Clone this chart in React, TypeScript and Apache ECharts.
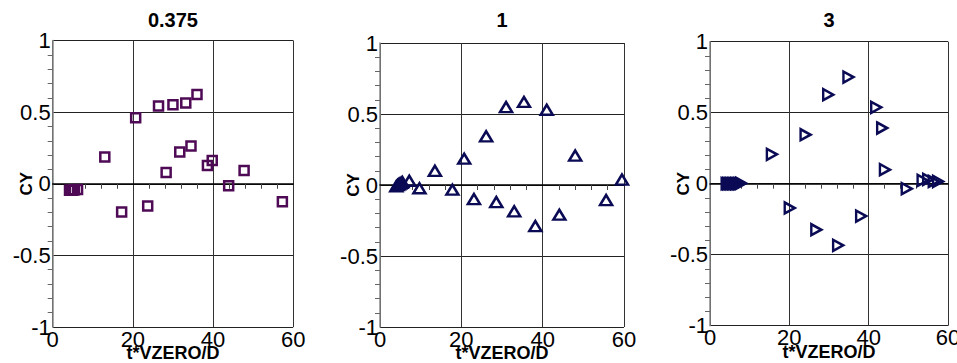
import React, { useEffect, useRef } from "react";
import * as echarts from "echarts";

const titles = ["0.375", "1", "3"];
const xTicks = [0, 20, 40, 60];
const yTicks = [-1, -0.5, 0, 0.5, 1];

const s1x = [4.2, 4.6, 5.0, 5.4, 6.2, 13, 17.2, 20.7, 23.7, 26.4, 28.3, 30, 31.7, 33.2, 34.5, 36, 38.6, 39.8, 43.9, 47.75, 57.3];
const s1y = [-0.045, -0.045, -0.045, -0.042, -0.04, 0.186, -0.198, 0.46, -0.156, 0.542, 0.079, 0.551, 0.221, 0.563, 0.263, 0.623, 0.128, 0.163, -0.014, 0.093, -0.126];

const s2x = [4.0, 4.3, 4.6, 4.9, 5.2, 5.5, 7.2, 9.7, 13.5, 17.8, 20.7, 23.1, 26.1, 28.6, 31, 33, 35.4, 38.2, 41, 44.1, 48, 55.6, 59.5];
const s2y = [-0.01, 0, 0.005, 0.01, 0.015, 0.02, 0.03, -0.023, 0.1, -0.033, 0.185, -0.099, 0.343, -0.12, 0.549, -0.185, 0.585, -0.289, 0.53, -0.209, 0.207, -0.106, 0.038];

const s3x = [4.2, 4.6, 5.0, 5.4, 5.8, 6.2, 6.6, 7.0, 7.4, 7.8, 15.6, 20.1, 24.1, 26.8, 29.8, 32.3, 34.9, 38.1, 41.9, 43.4, 44.1, 49.6, 53.6, 55, 56.4, 57.5];
const s3y = [0, 0, 0, 0, 0, 0, 0, 0, 0, 0.003, 0.207, -0.171, 0.345, -0.324, 0.627, -0.434, 0.751, -0.228, 0.538, 0.392, 0.099, -0.035, 0.023, 0.03, 0.016, 0.016];

const FONT = "'Liberation Sans', Arial, sans-serif";

const zip = (xs: number[], ys: number[]) => xs.map((x, i) => [x, ys[i]]);

const grids = [
  { left: 52.7, top: 40.5, width: 240.5, height: 286.5, outerBoundsMode: "none", containLabel: false },
  { left: 380, top: 43, width: 244, height: 284, outerBoundsMode: "none", containLabel: false },
  { left: 710, top: 41.7, width: 238, height: 284, outerBoundsMode: "none", containLabel: false },
];

export default function App() {
  const ref = useRef<HTMLDivElement>(null);
  useEffect(() => {
    if (!ref.current) return;
    const chart = echarts.init(ref.current, undefined, { renderer: "svg" });
    const xAxis = grids.map((_, i) => ({
      type: "value",
      gridIndex: i,
      min: xTicks[0],
      max: xTicks[xTicks.length - 1],
      interval: 20,
      name: "t*VZERO/D",
      nameLocation: "middle",
      nameGap: 17,
      nameMoveOverlap: false,
      nameTextStyle: { fontFamily: FONT, fontWeight: "bold", fontSize: 18, color: "#000" },
      axisLine: { show: true, lineStyle: { color: "#000", width: 1.5 } },
      axisTick: { show: false },
      minorTick: { show: true, splitNumber: 5, length: 5, lineStyle: { color: "#444" } },
      axisLabel: { fontFamily: FONT, fontSize: 22, color: "#000", margin: 1 },
      splitLine: { show: true, lineStyle: { color: "#333", width: 1 } },
    }));
    const yAxis = grids.map((_, i) => ({
      type: "value",
      gridIndex: i,
      min: yTicks[0],
      max: yTicks[yTicks.length - 1],
      interval: 0.5,
      name: "CY",
      nameLocation: "middle",
      nameGap: 18,
      nameMoveOverlap: false,
      nameTextStyle: { fontFamily: FONT, fontWeight: "bold", fontSize: 17, color: "#000" },
      axisLine: { show: true, lineStyle: { color: "#888", width: 1.5 } },
      axisTick: { show: false },
      minorTick: { show: true, splitNumber: 5, length: 5, lineStyle: { color: "#666" } },
      axisLabel: { fontFamily: FONT, fontSize: 22, color: "#000", margin: 2 },
      splitLine: { show: true, lineStyle: { color: "#222", width: 1 } },
    }));
    const purple = "#4f0a55";
    const navy = "#0a0a55";
    chart.setOption({
      animation: false,
      backgroundColor: "#fff",
      grid: grids,
      xAxis,
      yAxis,
      graphic: titles.map((t, i) => ({
        type: "text",
        x: grids[i].left + grids[i].width / 2,
        y: 20,
        style: {
          text: t,
          fontFamily: FONT,
          fontWeight: "bold",
          fontSize: 20,
          fill: "#000",
          textAlign: "center",
          textVerticalAlign: "middle",
        },
      })),
      series: [
        {
          type: "scatter",
          xAxisIndex: 0,
          yAxisIndex: 0,
          data: zip(s1x, s1y),
          symbol: "rect",
          symbolSize: 9,
          itemStyle: { color: "rgba(0,0,0,0)", borderColor: purple, borderWidth: 2.5, opacity: 1 },
        },
        {
          type: "scatter",
          xAxisIndex: 1,
          yAxisIndex: 1,
          data: zip(s2x, s2y),
          symbol: "path://M0,10L6,0L12,10Z",
          symbolSize: [12, 10],
          itemStyle: { color: "rgba(0,0,0,0)", borderColor: navy, borderWidth: 2.5, opacity: 1 },
        },
        {
          type: "scatter",
          xAxisIndex: 2,
          yAxisIndex: 2,
          data: zip(s3x, s3y),
          symbol: "path://M0,0L10,5L0,10Z",
          symbolSize: [10, 11],
          itemStyle: { color: "rgba(0,0,0,0)", borderColor: navy, borderWidth: 2.5, opacity: 1 },
        },
      ],
    });
    return () => chart.dispose();
  }, []);
  return (
    <div
      ref={ref}
      style={{ position: "absolute", left: 0, top: 0, width: 957, height: 363, background: "#fff" }}
    />
  );
}
